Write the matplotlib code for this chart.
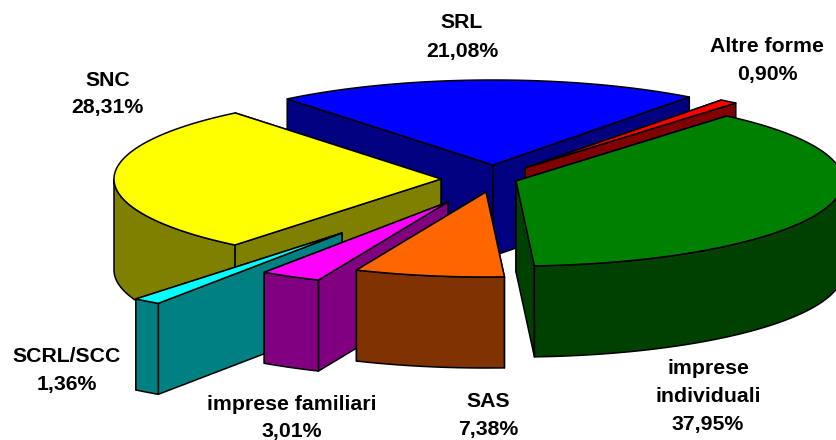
import numpy as np
import matplotlib
matplotlib.use('Agg')
import matplotlib.pyplot as plt
from matplotlib.patches import Polygon

# order is clockwise around the pie, starting from SRL
names = ['SRL', 'Altre forme', 'imprese\nindividuali', 'SAS',
         'imprese familiari', 'SCRL/SCC', 'SNC']
shares = [21.08, 0.90, 37.95, 7.38, 3.01, 1.36, 28.31]

top_colors = ['#0000FF', '#FF0000', '#008000', '#FF6600', '#FF00FF', '#00FFFF', '#FFFF00']
side_colors = ['#000080', '#800000', '#004000', '#803300', '#800080', '#008080', '#808000']

# exploded slice apex on the canvas, pixels
apex_x = [493, 525, 516, 486, 448, 342, 441]
apex_y = [165, 168, 181, 192, 202, 233, 179]
label_x = [462, 767, 708, 488, 291.5, 67, 107.5]
label_y = [37, 60.5, 396.5, 415.5, 418, 370.5, 94]
draw_order = [0, 1, 6, 2, 5, 4, 3]

RX, RY = 327, 85
DEPTH = 91
START = 129.0


def arc_points(i, a0, a1, n=80):
    t = np.radians(np.linspace(a0, a1, n))
    return apex_x[i] + RX * np.cos(t), apex_y[i] - RY * np.sin(t)


def add_face(ax, xs, ys, color):
    ax.add_patch(Polygon(np.column_stack([xs, ys]), closed=True, facecolor=color,
                         edgecolor='black', linewidth=1.1, joinstyle='round'))


def draw_slice(ax, i, a0, a1):
    cx, cy = apex_x[i], apex_y[i]
    # radial walls, the one ending lower on screen goes last
    ends = sorted([a0, a1], key=lambda a: -np.sin(np.radians(a)))
    for a in ends:
        x = cx + RX * np.cos(np.radians(a))
        y = cy - RY * np.sin(np.radians(a))
        add_face(ax, [cx, x, x, cx], [cy, y, y + DEPTH, cy + DEPTH], side_colors[i])
    # outer wall, only the front half of the ellipse shows
    lo, hi = min(a0, a1), max(a0, a1)
    for k in (-1, 0, 1):
        w0, w1 = max(lo, -180 + 360 * k), min(hi, 360 * k)
        if w1 > w0:
            xs, ys = arc_points(i, w0, w1)
            add_face(ax, np.r_[xs, xs[::-1]], np.r_[ys, ys[::-1] + DEPTH], side_colors[i])
    xs, ys = arc_points(i, a0, a1)
    add_face(ax, np.r_[cx, xs], np.r_[cy, ys], top_colors[i])


fig = plt.figure(figsize=(8.36, 4.4), dpi=100, facecolor='white')
ax = fig.add_axes([0, 0, 1, 1])
ax.set_xlim(0, 836)
ax.set_ylim(440, 0)
ax.axis('off')

sweeps = np.array(shares) / sum(shares) * 360
starts = START - np.r_[0, np.cumsum(sweeps)[:-1]]
for i in draw_order:
    draw_slice(ax, i, starts[i], starts[i] - sweeps[i])

for i, name in enumerate(names):
    pct = f'{shares[i]:.2f}'.replace('.', ',') + '%'
    ax.text(label_x[i], label_y[i], f'{name}\n{pct}', ha='center', va='center',
            family='Liberation Sans', fontweight='bold', fontsize=15.3,
            linespacing=1.6, color='black')

fig.savefig('out.png', dpi=100, facecolor='white')
